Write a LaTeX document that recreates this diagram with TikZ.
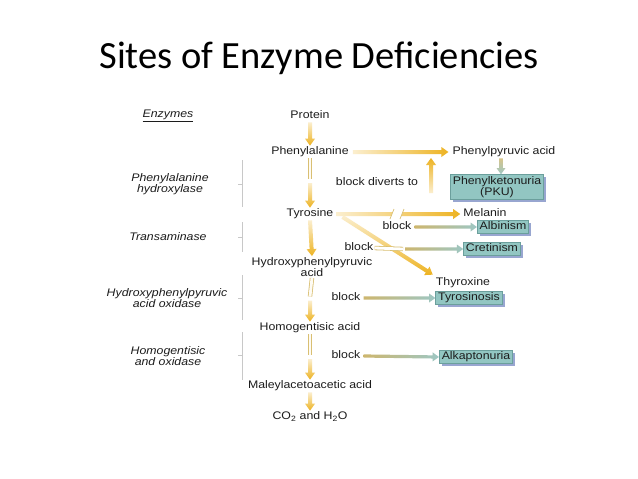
\documentclass[tikz,border=0pt]{standalone}
\usepackage{fontspec}
\setmainfont{Liberation Sans}[FakeStretch=1.12]
\newfontfamily\titlefont{Carlito}
\usetikzlibrary{arrows.meta,calc,shadows}
\definecolor{gold}{HTML}{EDB322}
\definecolor{paleGold}{HTML}{D9BF72}
\definecolor{khaki}{HTML}{CDB66E}
\definecolor{arrowTeal}{HTML}{9DC7C4}
\definecolor{boxTeal}{HTML}{92C6C2}
\definecolor{boxLine}{HTML}{6B9F9C}
\definecolor{boxShadow}{HTML}{8D9DCB}
\definecolor{inkGray}{HTML}{1C1C1C}
\definecolor{braceGray}{HTML}{C8C8C8}
% shaded arrow: [shading]{from}{to}{half shaft}{half head}
\newcommand{\shadedarrow}[5][]{%
  \path ($(#3)!1.4*#5!(#2)$) coordinate (hb);
  \shade[#1] ($(#2)!#4!90:(#3)$) -- ($(hb)!#4!90:(#3)$) -- ($(hb)!#5!90:(#3)$) -- (#3)
    -- ($(hb)!#5!-90:(#3)$) -- ($(hb)!#4!-90:(#3)$) -- ($(#2)!#4!-90:(#3)$) -- cycle;}
\tikzset{
  goldDown/.style={top color=gold!22, bottom color=gold},
  goldRight/.style={left color=gold!22, right color=gold},
  goldUp/.style={bottom color=gold!22, top color=gold},
  tealRight/.style={left color=khaki, right color=arrowTeal},
  tealDown/.style={top color=khaki!80, bottom color=arrowTeal},
  txt/.style={font=\fontsize{11}{11.5}\selectfont, text=inkGray, inner sep=1pt, text height=8pt, text depth=2.3pt},
  txtb/.style={font=\fontsize{11}{11.5}\selectfont, text=inkGray, inner sep=1pt, align=center},
  enz/.style={txtb, font=\fontsize{11}{11.5}\selectfont\itshape},
  diseasebox/.style={draw=boxLine, fill=boxTeal, line width=.6pt, inner xsep=2.5pt, inner ysep=1.5pt,
    drop shadow={shadow xshift=2.5pt, shadow yshift=-2.5pt, fill=boxShadow, opacity=.9}},
  hollow/.style={draw=paleGold, line width=.8pt, double=gold!5, double distance=2.8pt},
  brace/.style={draw=braceGray, line width=.6pt},
}
\begin{document}
\begin{tikzpicture}[x=1pt,y=-1pt]
\useasboundingbox[fill=white] (0,0) rectangle (638,479);
\node[font=\titlefont\fontsize{38.5}{40}\selectfont, anchor=base] (title) at (319,68) {Sites of Enzyme Deficiencies};
\node[enz] (hdr) at (168,116) {\underline{Enzymes}};
% main pathway
\node[txt] (pro) at (310,116) {Protein};
\node[txt] (phe) at (310,152) {Phenylalanine};
\node[txt] (tyr) at (310,214) {Tyrosine};
\node[txtb] (hyd) at (312,267) {Hydroxyphenylpyruvic\\acid};
\node[txt] (hom) at (310,328) {Homogentisic acid};
\node[txt] (mal) at (310,386) {Maleylacetoacetic acid};
\node[txt] (co) at (310,417) {CO\textsubscript{2} and H\textsubscript{2}O};
% side products and disorders
\node[txt] (ppa) at (504,152) {Phenylpyruvic acid};
\node[txtb, diseasebox] (pku) at (497,187) {Phenylketonuria\\(PKU)};
\node[txt] (div) at (377,183) {block diverts to};
\node[txt] (mel) at (485,214) {Melanin};
\node[txt] (blkA) at (397,227) {block};
\node[txt, diseasebox] (alb) at (503,227) {Albinism};
\node[txt] (blkC) at (359,248) {block};
\node[txt, diseasebox] (cre) at (492,249) {Cretinism};
\node[txt] (thy) at (463,283) {Thyroxine};
\node[txt] (blkT) at (346,298) {block};
\node[txt, diseasebox] (tys) at (469,298) {Tyrosinosis};
\node[txt] (blkK) at (346,356) {block};
\node[txt, diseasebox] (alk) at (476,357) {Alkaptonuria};
% enzymes
\node[enz] (e1) at (170,184) {Phenylalanine\\hydroxylase};
\node[enz] (e2) at (168,237) {Transaminase};
\node[enz] (e3) at (167,298) {Hydroxyphenylpyruvic\\acid oxidase};
\node[enz] (e4) at (168,356) {Homogentisic\\and oxidase};
\foreach \ya/\yb/\yc in {160/207/184, 222/252/237, 275/320/298, 332/380/355}
  \draw[brace] (242,\ya) -- (242,\yb) (242,\yc) -- (238,\yc);
% vertical steps
\coordinate (cut1) at (310,181);
\coordinate (cut2) at (310,298.5);
\coordinate (cut3) at (310,357);
\shadedarrow[goldDown]{pro.south}{phe.north}{2pt}{5pt}
\draw[hollow] (phe.south) -- ([yshift=2pt]cut1);
\shadedarrow[goldDown]{[yshift=-2pt]cut1}{tyr.north}{2pt}{5pt}
\shadedarrow[goldDown]{tyr.south}{hyd.north}{2pt}{5pt}
\draw[hollow] (hyd.south) -- ([yshift=2pt]cut2);
\shadedarrow[goldDown]{[yshift=-2pt]cut2}{hom.north}{2pt}{5pt}
\draw[hollow] (hom.south) -- ([yshift=2pt]cut3);
\shadedarrow[goldDown]{[yshift=-2pt]cut3}{mal.north}{2pt}{5pt}
\shadedarrow[goldDown]{mal.south}{co.north}{2pt}{5pt}
% side branches
\shadedarrow[goldRight]{[xshift=3pt]phe.east}{[xshift=-3pt]ppa.west}{2pt}{5pt}
\coordinate (upA) at (431,193);
\coordinate (upB) at (431,158);
\shadedarrow[goldUp]{upA}{upB}{2pt}{5pt}
\coordinate (pkuTop) at ([xshift=4pt]pku.north);
\coordinate (ppaBot) at (pkuTop |- ppa.south);
\shadedarrow[tealDown]{ppaBot}{pkuTop}{1.8pt}{4.5pt}
\shadedarrow[goldRight]{[xshift=2pt]tyr.east}{[xshift=-2pt]mel.west}{2pt}{5pt}
\coordinate (cutM) at (397,214);
\fill[white] ([xshift=-7pt,yshift=-5pt]cutM) -- ([xshift=3pt,yshift=-5pt]cutM)
  -- ([xshift=7pt,yshift=5pt]cutM) -- ([xshift=-3pt,yshift=5pt]cutM) -- cycle;
\draw[paleGold, line width=.7pt] ([xshift=-7pt,yshift=-5pt]cutM) -- ([xshift=-3pt,yshift=5pt]cutM)
  ([xshift=3pt,yshift=-5pt]cutM) -- ([xshift=7pt,yshift=5pt]cutM);
\shadedarrow[goldDown]{[xshift=8pt,yshift=-3pt]tyr.east}{[xshift=-2pt,yshift=2pt]thy.north west}{2pt}{5pt}
\shadedarrow[tealRight]{[xshift=2pt]blkA.east}{alb.west}{1.6pt}{4.5pt}
\coordinate (cutC) at (404,249);
\draw[hollow, double=white] (blkC.east) -- ([xshift=-1pt]cutC);
\shadedarrow[tealRight]{[xshift=1pt]cutC}{cre.west}{1.6pt}{4.5pt}
\shadedarrow[tealRight]{[xshift=2pt]blkT.east}{tys.west}{1.6pt}{4.5pt}
\shadedarrow[tealRight]{[xshift=2pt]blkK.east}{alk.west}{1.6pt}{4.5pt}
\end{tikzpicture}
\end{document}
